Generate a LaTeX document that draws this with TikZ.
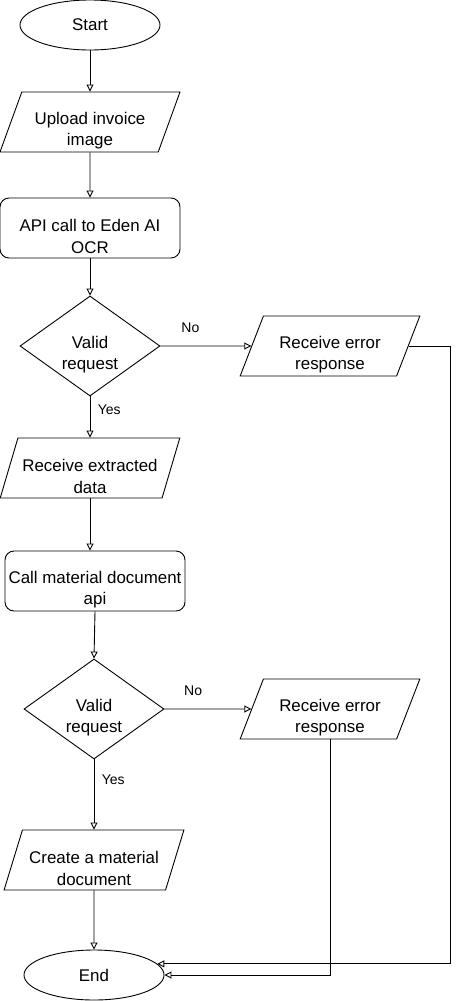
\documentclass[tikz,border=0pt]{standalone}
\usepackage{fontspec}
\setmainfont{Liberation Sans}
\usetikzlibrary{shapes.geometric, arrows.meta}
\tikzset{
  >={Triangle[open,length=7pt,width=7pt]},
  every node/.style={font=\fontsize{16.9}{21.7}\selectfont, align=center},
  lowtext/.style={text height=51pt},
  term/.style={draw, ellipse, minimum width=140pt, minimum height=50pt, inner sep=0pt},
  io/.style={draw, trapezium, trapezium left angle=72, trapezium right angle=108,
    trapezium stretches=true, minimum width=180pt, minimum height=60pt, inner sep=0pt, lowtext},
  proc/.style={draw, rounded corners=9pt, minimum width=180pt, minimum height=60pt, inner sep=0pt, lowtext},
  decide/.style={draw, diamond, aspect=1.4, minimum width=140pt, minimum height=100pt, inner sep=0pt, lowtext},
  lbl/.style={font=\fontsize{14}{17}\selectfont}
}

\begin{document}
\begin{tikzpicture}[x=1pt, y=-1pt, line width=0.9pt]
    \useasboundingbox (0,0) rectangle (460,1001);
    % main column
    \node[term] (start) at (90,25) {Start};
    \node[io] (upload) at (90,122) {Upload invoice\\image};
    \node[proc] (ocr) at (90,228) {API call to Eden AI\\OCR};
    \node[decide] (valid1) at (90,346) {Valid\\request};
    \node[io] (extract) at (90,468) {Receive extracted\\data};
    \node[proc] (mat) at (95,581) {Call material document\\api};
    \node[decide] (valid2) at (94,709) {Valid\\request};
    \node[io] (create) at (94,860) {Create a material\\document};
    \node[term] (end) at (94,975) {End};
    % error branch
    \node[io] (err1) at (330,346) {Receive error\\response};
    \node[io] (err2) at (330,709) {Receive error\\response};
    \coordinate (turn1) at (450,350);

    \draw[->] (start) -- (upload);
    \draw[->] (upload) -- (ocr);
    \draw[->] (ocr) -- (valid1);
    \draw[->] (valid1) -- node[lbl, pos=.33, above=10pt] {No} (err1);
    \draw[->] (valid1) -- node[lbl, pos=.33, right=4pt] {Yes} (extract);
    \draw[->] (extract.south) -- (extract.south |- mat.north);
    \draw[->] (mat.south) -- (valid2.north);
    \draw[->] (valid2) -- node[lbl, pos=.33, above=10pt] {No} (err2);
    \draw[->] (valid2) -- node[lbl, pos=.29, right=4pt] {Yes} (create);
    \draw[->] (create) -- (end);
    \draw[->] (err2.south) |- (end.east);
    \draw[->] (err1.east) -- (err1.east -| turn1) -- (turn1 |- end.10) -- (end.10);
\end{tikzpicture}
\end{document}
